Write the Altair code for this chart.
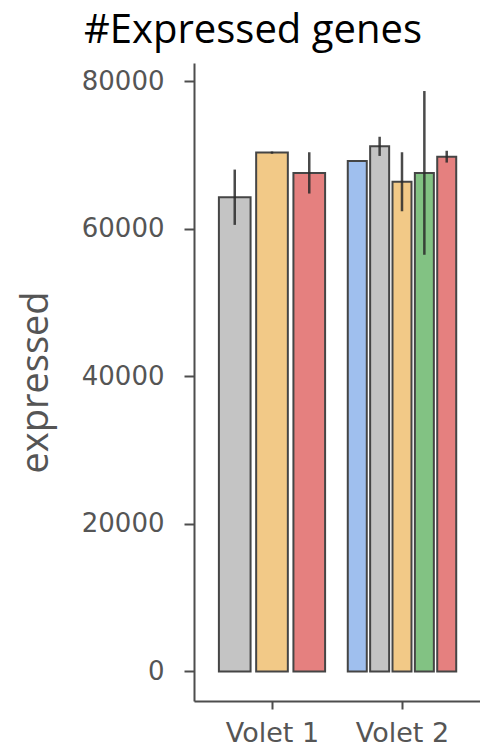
import json

import altair as alt
import pandas as pd

# Bars in plotting order: panel, condition, mean number of expressed genes, error half-width
panels = ["Volet 1", "Volet 1", "Volet 1", "Volet 2", "Volet 2", "Volet 2", "Volet 2", "Volet 2"]
conditions = ["B", "C", "E", "A", "B", "C", "D", "E"]
means = [64300, 70350, 67600, 69200, 71200, 66400, 67600, 69800]
errors = [3750, 150, 2800, 0, 1300, 4000, 11100, 800]

panel_names = ["Volet 1", "Volet 2"]
condition_names = ["A", "B", "C", "D", "E"]
condition_colors = ["#9fbfee", "#c4c4c4", "#f2c987", "#82c283", "#e5807f"]
y_ticks = [0, 20000, 40000, 60000, 80000]

# Dodge the bars inside each panel slot (ggplot-like discrete axis)
GROUP_WIDTH = 0.86
BAR_FILL = 0.85
df = pd.DataFrame({"panel": panels, "condition": conditions, "mean": means, "err": errors})
df["n"] = df.groupby("panel")["panel"].transform("size")
df["i"] = df.groupby("panel").cumcount()
df["center"] = df["panel"].map({p: k + 1 for k, p in enumerate(panel_names)})
df["slot"] = GROUP_WIDTH / df["n"]
df["x"] = df["center"] + (df["i"] - (df["n"] - 1) / 2) * df["slot"]
df["x_lo"] = df["x"] - df["slot"] * BAR_FILL / 2
df["x_hi"] = df["x"] + df["slot"] * BAR_FILL / 2
df["lo"] = df["mean"] - df["err"]
df["hi"] = df["mean"] + df["err"]

x_scale = alt.Scale(domain=[0.4, 2.6], nice=False, zero=False)
y_scale = alt.Scale(domain=[-4000, 82500], nice=False, zero=False)

x_axis = alt.Axis(
    values=[1, 2],
    labelExpr=f"{json.dumps(panel_names)}[datum.value - 1]",
    title=None,
    tickSize=8,
    labelPadding=11,
    labelFontSize=27,
)
y_axis = alt.Axis(
    values=y_ticks,
    format="d",
    title="expressed",
    titleFont="Open Sans",
    titleFontSize=38,
    titleFontWeight="normal",
    titleColor="#555555",
    titlePadding=26,
    tickSize=10,
    labelPadding=20,
    labelFontSize=26,
)

base = alt.Chart(df)

bars = base.mark_bar(stroke="#454545", strokeWidth=2).encode(
    x=alt.X("x_lo:Q", scale=x_scale, axis=x_axis),
    x2="x_hi:Q",
    y=alt.Y("mean:Q", scale=y_scale, axis=y_axis),
    y2=alt.datum(0),
    color=alt.Color(
        "condition:N",
        scale=alt.Scale(domain=condition_names, range=condition_colors),
        legend=None,
    ),
)

error_bars = base.mark_rule(color="#2a2a2a", strokeWidth=2.5, opacity=0.85).encode(
    x="x:Q",
    y="lo:Q",
    y2="hi:Q",
)

chart = (
    alt.layer(bars, error_bars)
    .properties(
        width=286,
        height=638,
        padding={"left": 194, "top": 63, "right": 0, "bottom": 53},
        autosize=alt.AutoSizeParams(type="none"),
        title=alt.Title(
            "#Expressed genes",
            font="Open Sans",
            fontSize=40,
            fontWeight="normal",
            color="#000000",
            anchor="start",
            frame="group",
            dx=-110,
            offset=12,
        ),
    )
    .configure_view(strokeWidth=0)
    .configure_axis(
        grid=False,
        domainColor="#4d4d4d",
        domainWidth=2,
        tickColor="#4d4d4d",
        tickWidth=2,
        labelColor="#555555",
        labelFont="DejaVu Sans",
    )
)

chart.save("out.html", embed_options={"renderer": "svg", "actions": False})
